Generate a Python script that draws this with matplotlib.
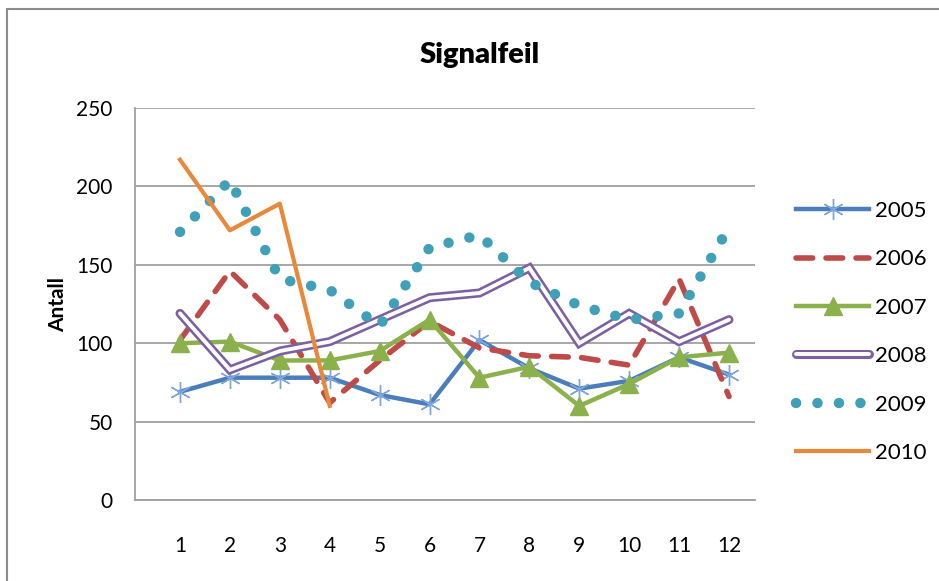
import numpy as np
import matplotlib.pyplot as plt
from matplotlib.patches import Rectangle

plt.rcParams['font.family'] = ['Lato', 'DejaVu Sans']

months = list(range(1, 13))
y2005 = [69, 78, 78, 78, 67, 61, 102, 84, 71, 76, 91, 80]
y2006 = [102, 146, 115, 62, 89, 114, 97, 92, 91, 86, 141, 66]
y2007 = [100, 101, 89, 89, 95, 115, 78, 85, 60, 74, 91, 94]
y2008 = [119, 83, 95, 101, 115, 129, 132, 148, 100, 119, 101, 115]
y2009 = [171, 204, 141, 134, 111, 161, 169, 139, 124, 115, 119, 174]
y2010 = [217, 172, 189, 60]
years = ['2005', '2006', '2007', '2008', '2009', '2010']

blue = '#4a7ebb'
red = '#be4b48'
green = '#8ab14c'
purple = '#7d60a0'
teal = '#3fa0b8'
orange = '#e8893a'

fig = plt.figure(figsize=(9.39, 5.81), dpi=100)
fig.patches.append(Rectangle((7 / 939, -0.1), 1.2, 1 - 9 / 581 + 0.1, transform=fig.transFigure,
                             fill=False, edgecolor='#8c8c8c', linewidth=1.5))
ax = fig.add_axes([135 / 939, 1 - 500 / 581, 620 / 939, 392 / 581])

ax.plot(months, y2005, color=blue, lw=3.2, marker=(6, 2, 0), ms=15,
        mec='#7fa6dc', mew=1.0, label=years[0], zorder=3)
ax.plot(months, y2006, color=red, lw=4, dashes=(3.0, 2.4), dash_capstyle='round',
        label=years[1], zorder=3)
ax.plot(months, y2007, color=green, lw=3.2, marker='^', ms=13, mec=green,
        label=years[2], zorder=3)
l8a, = ax.plot(months, y2008, color=purple, lw=6.5, solid_capstyle='round',
               solid_joinstyle='miter', zorder=3)
l8b, = ax.plot(months, y2008, color='white', lw=2.8, solid_capstyle='round',
               solid_joinstyle='miter', zorder=3)
ax.plot(months, y2009, color=teal, lw=7.5, dashes=(0.01, 2.05), dash_capstyle='round',
        label=years[4], zorder=3)
ax.plot(months[:len(y2010)], y2010, color=orange, lw=3, label=years[5], zorder=3)

ax.set_xlim(1 - 45 / 49.9, 12 + 26 / 49.9)
ax.set_ylim(0, 250)
ax.set_yticks(range(0, 251, 50))
ax.set_xticks(months)
ax.grid(axis='y', color='#a0a0a0', lw=1.3)
ax.set_axisbelow(True)
for s in ['top', 'right']:
    ax.spines[s].set_visible(False)
ax.spines['left'].set_color('#a0a0a0')
ax.spines['bottom'].set_color('#a0a0a0')
ax.spines['left'].set_linewidth(1.3)
ax.spines['bottom'].set_linewidth(1.3)
ax.tick_params(length=0, labelsize=15)
ax.tick_params(axis='y', pad=16)
ax.tick_params(axis='x', pad=26)

ax.set_ylabel('Antall', fontsize=15, fontweight='bold', labelpad=6)
fig.text(0.511, 1 - 55 / 581, 'Signalfeil', fontsize=21, fontweight='heavy', ha='center', va='center')

h, lab = ax.get_legend_handles_labels()
handles = [h[0], h[1], h[2], (l8a, l8b), h[3], h[4]]
ax.legend(handles, years, loc='center left', bbox_to_anchor=(787 / 939, 1 - 332 / 581),
          bbox_transform=fig.transFigure, frameon=False, fontsize=16,
          handlelength=3.3, labelspacing=1.28, handletextpad=0.25, borderaxespad=0)

fig.savefig('out.png', dpi=100)
